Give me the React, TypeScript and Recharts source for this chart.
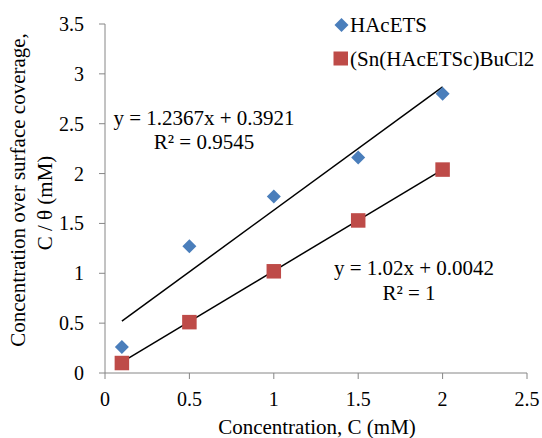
import React from "react";
import { ScatterChart, Scatter, XAxis, YAxis, Customized } from "recharts";

const concentrations = [0.1, 0.5, 1, 1.5, 2];
const hacetsValues = [0.26, 1.27, 1.77, 2.16, 2.8];
const snValues = [0.1, 0.51, 1.02, 1.53, 2.04];
const trendX = [0.1, 2];
const hacetsTrend = [0.52, 2.87];
const snTrend = [0.11, 2.04];
const xTicks = [0, 0.5, 1, 1.5, 2, 2.5];
const yTicks = [0, 0.5, 1, 1.5, 2, 2.5, 3, 3.5];

const hacetsData = concentrations.map((x, i) => ({ x, y: hacetsValues[i] }));
const snData = concentrations.map((x, i) => ({ x, y: snValues[i] }));
const hacetsTrendData = trendX.map((x, i) => ({ x, y: hacetsTrend[i] }));
const snTrendData = trendX.map((x, i) => ({ x, y: snTrend[i] }));

const FONT = "Liberation Serif";
const TXT: React.CSSProperties = { fontFamily: FONT };
const BLUE = "#4a7ebb";
const RED = "#be4b48";
const AXIS = "#868686";

const Diamond = (props: any) => {
  const { cx, cy } = props;
  const r = 7;
  return <path d={`M${cx},${cy - r}L${cx + r},${cy}L${cx},${cy + r}L${cx - r},${cy}Z`} fill={BLUE} />;
};
const Square = (props: any) => {
  const { cx, cy } = props;
  const s = 14.5;
  return <rect x={cx - s / 2} y={cy - s / 2} width={s} height={s} fill={RED} />;
};
const NoShape = () => null;

const XTick = (props: any) => {
  const { x, y, payload } = props;
  return (
    <text x={x} y={y + 18} fontSize={20} style={TXT} fill="#000" textAnchor="middle" dominantBaseline="central">
      {String(payload.value)}
    </text>
  );
};
const YTick = (props: any) => {
  const { x, y, payload } = props;
  return (
    <text x={x - 13} y={y} fontSize={20} style={TXT} fill="#000" textAnchor="end" dominantBaseline="central">
      {String(payload.value)}
    </text>
  );
};

const Overlay = () => (
  <g style={TXT} fill="#000">
    <text x={204} y={118} fontSize={21} style={TXT} textAnchor="middle" dominantBaseline="central">y = 1.2367x + 0.3921</text>
    <text x={204} y={142} fontSize={21} style={TXT} textAnchor="middle" dominantBaseline="central">R² = 0.9545</text>
    <text x={414} y={268} fontSize={21} style={TXT} textAnchor="middle" dominantBaseline="central">y = 1.02x + 0.0042</text>
    <text x={409} y={293} fontSize={21} style={TXT} textAnchor="middle" dominantBaseline="central">R² = 1</text>
    <path d="M341.5,18L348.5,25L341.5,32L334.5,25Z" fill={BLUE} />
    <text x={350} y={25} fontSize={21} style={TXT} dominantBaseline="central">HAcETS</text>
    <rect x={333.5} y={51.5} width={14.5} height={14} fill={RED} />
    <text x={350} y={59} fontSize={21} style={TXT} dominantBaseline="central">(Sn(HAcETSc)BuCl2</text>
    <text x={317} y={427} fontSize={21} style={TXT} textAnchor="middle" dominantBaseline="central">Concentration, C (mM)</text>
    <text transform="translate(18,190) rotate(-90)" fontSize={21} style={TXT} textAnchor="middle" dominantBaseline="central">Concentration over surface coverage,</text>
    <text transform="translate(45,203) rotate(-90)" fontSize={21} style={TXT} textAnchor="middle" dominantBaseline="central">C / θ (mM)</text>
  </g>
);

export default function App() {
  return (
    <div style={{ position: "absolute", left: 0, top: 0, width: 542, height: 438, background: "#fff", fontFamily: FONT }}>
      <ScatterChart width={542} height={438} margin={{ top: 24, right: 15, bottom: 35, left: 0 }} style={TXT}>
        <XAxis
          type="number"
          dataKey="x"
          domain={[0, 2.5]}
          ticks={xTicks}
          interval={0}
          height={30}
          stroke={AXIS}
          tickSize={6}
          tick={XTick}
          allowDataOverflow
        />
        <YAxis
          type="number"
          dataKey="y"
          domain={[0, 3.5]}
          ticks={yTicks}
          interval={0}
          width={105}
          stroke={AXIS}
          tickSize={6}
          tick={YTick}
          allowDataOverflow
        />
        <Scatter data={hacetsTrendData} line={{ stroke: "#000", strokeWidth: 1.5 }} lineType="joint" shape={NoShape} isAnimationActive={false} />
        <Scatter data={snTrendData} line={{ stroke: "#000", strokeWidth: 1.5 }} lineType="joint" shape={NoShape} isAnimationActive={false} />
        <Scatter data={hacetsData} shape={Diamond} isAnimationActive={false} />
        <Scatter data={snData} shape={Square} isAnimationActive={false} />
        <Customized component={Overlay} />
      </ScatterChart>
    </div>
  );
}
